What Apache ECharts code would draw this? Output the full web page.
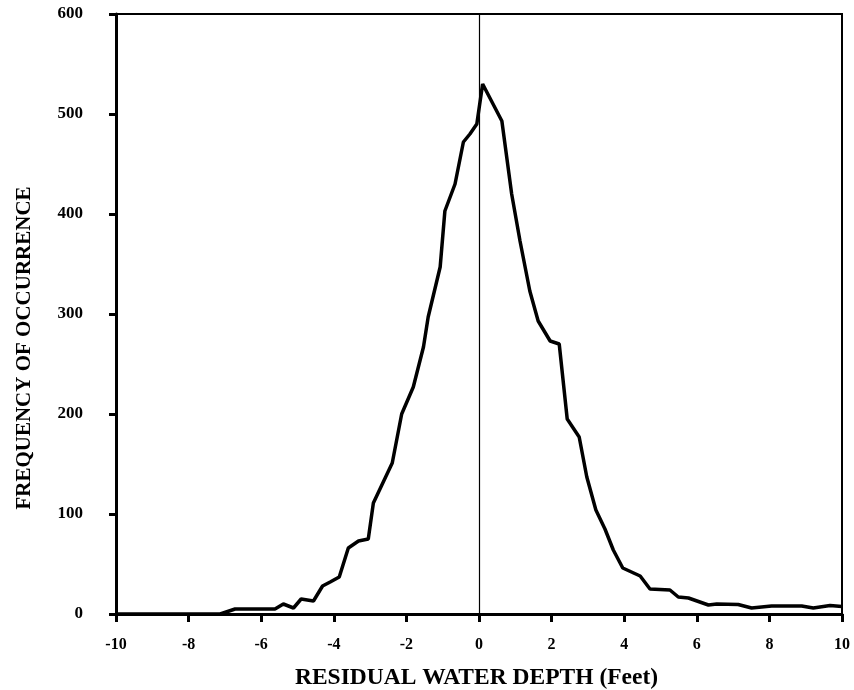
<!DOCTYPE html>
<html>
<head>
<meta charset="utf-8">
<script src="https://cdn.jsdelivr.net/npm/echarts@6/dist/echarts.min.js"></script>
<style>html,body{margin:0;padding:0;background:#fff}#c{width:854px;height:690px}</style>
</head>
<body>
<div id="c"></div>
<script>
// Residual water depth (feet) and frequency of occurrence
var depth = [-10, -7.13, -6.72, -5.62, -5.39, -5.11, -4.90, -4.56, -4.31, -4.10, -3.85, -3.60, -3.32, -3.05, -2.91, -2.39, -2.13, -1.81, -1.53, -1.40, -1.07, -0.94, -0.66, -0.43, -0.25, -0.06, 0.10, 0.63, 0.90, 1.13, 1.40, 1.63, 1.96, 2.21, 2.43, 2.76, 2.97, 3.22, 3.47, 3.70, 3.96, 4.44, 4.71, 5.26, 5.49, 5.77, 6.32, 6.55, 7.14, 7.51, 8.06, 8.89, 9.21, 9.67, 10.0];
var frequency = [0, 0, 5, 5, 10, 6, 15, 13, 28, 32, 37, 66, 73, 75, 111, 151, 200, 227, 267, 297, 347, 403, 430, 472, 480, 490, 530, 493, 420, 373, 323, 293, 273, 270, 195, 177, 137, 104, 85, 64, 46, 38, 25, 24, 17, 16, 9, 10, 9.5, 6, 8, 8, 6, 8.5, 7.5];
var xTicks = [-10, -8, -6, -4, -2, 0, 2, 4, 6, 8, 10];
var yTicks = [0, 100, 200, 300, 400, 500, 600];

var pts = depth.map(function (d, i) { return [d, frequency[i]]; });
var font = 'Liberation Serif';
var chart = echarts.init(document.getElementById('c'), null, {renderer: 'canvas'});
chart.setOption({
  animation: false,
  backgroundColor: '#fff',
  grid: {left: 116, right: 12, top: 14, bottom: 76, outerBoundsMode: 'none', containLabel: false, show: true, borderColor: '#000', borderWidth: 2, backgroundColor: 'transparent'},
  xAxis: {
    type: 'value', min: xTicks[0], max: xTicks[xTicks.length - 1], interval: 2,
    name: 'RESIDUAL WATER DEPTH (Feet)', nameLocation: 'middle', nameGap: 52,
    nameTextStyle: {fontFamily: font, fontWeight: 'bold', fontSize: 23.5, color: '#000', padding: [0, 5, 0, 0]},
    axisLine: {show: true, onZero: false, lineStyle: {color: '#000', width: 3}},
    axisTick: {show: true, inside: false, length: 8, lineStyle: {color: '#000', width: 3}},
    axisLabel: {fontFamily: font, fontWeight: 'bold', fontSize: 16, color: '#000', margin: 23},
    splitLine: {show: false}
  },
  yAxis: {
    type: 'value', min: yTicks[0], max: yTicks[yTicks.length - 1], interval: 100,
    name: 'FREQUENCY OF OCCURRENCE', nameLocation: 'middle', nameGap: 81, nameRotate: 90,
    nameTextStyle: {fontFamily: font, fontWeight: 'bold', fontSize: 21, color: '#000', padding: [0, 68, 0, 0]},
    axisLine: {show: true, onZero: false, lineStyle: {color: '#000', width: 3}},
    axisTick: {show: true, inside: false, length: 7, lineStyle: {color: '#000', width: 3}},
    axisLabel: {fontFamily: font, fontWeight: 'bold', fontSize: 17, color: '#000', margin: 33},
    splitLine: {show: false}
  },
  series: [{
    type: 'line', data: pts, symbol: 'none', smooth: false,
    lineStyle: {color: '#000', width: 3.5},
    markLine: {
      silent: true, symbol: 'none', label: {show: false},
      lineStyle: {color: '#000', width: 1.2, type: 'solid'},
      data: [{xAxis: 0}]
    }
  }]
});
</script>
</body>
</html>
